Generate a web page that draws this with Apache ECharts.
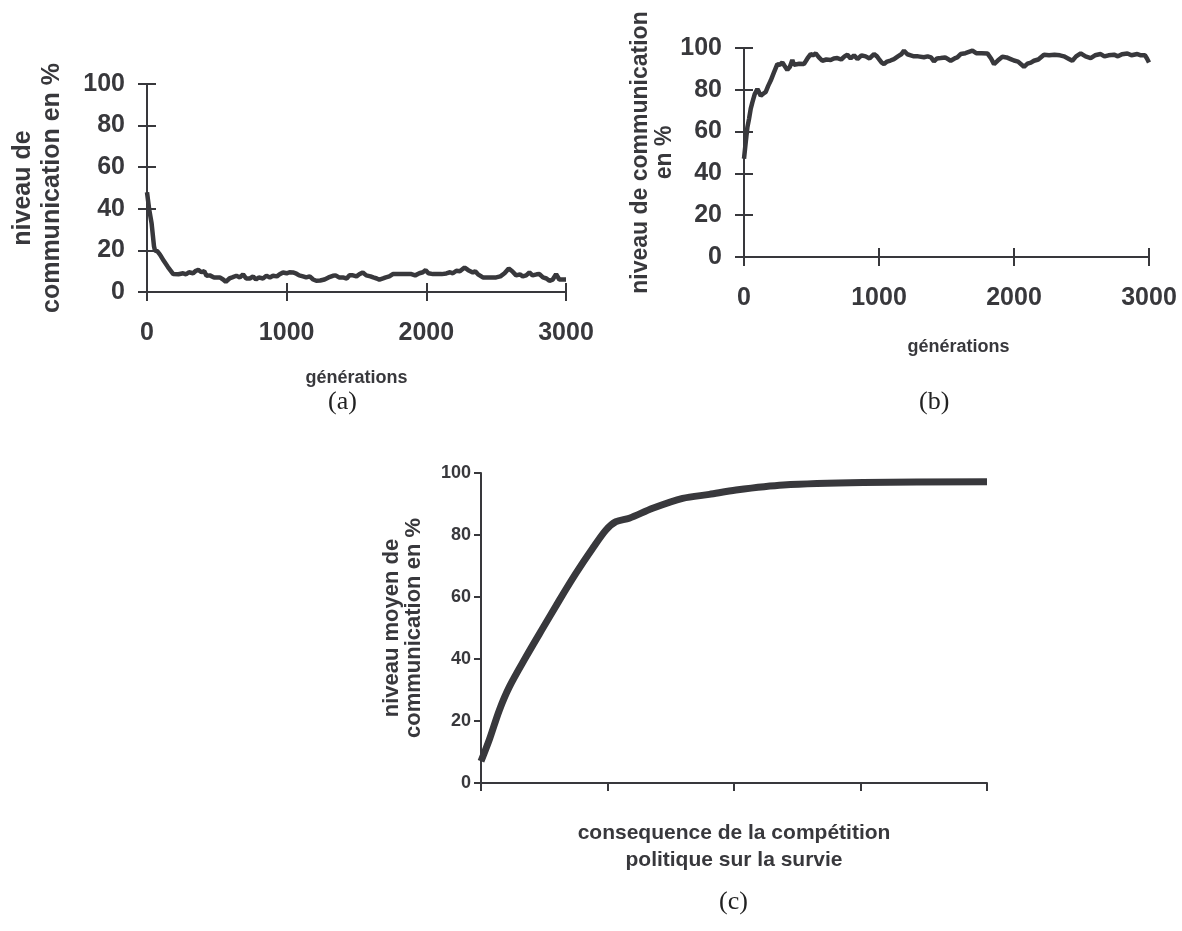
<!DOCTYPE html>
<html>
<head>
<meta charset="utf-8">
<script src="https://cdn.jsdelivr.net/npm/echarts@6/dist/echarts.min.js"></script>
<style>
html,body{margin:0;padding:0;background:#fff;}
#chart{width:1182px;height:931px;}
</style>
</head>
<body>
<div id="chart"></div>
<script>
// ---------- data ----------
// panel (a): generations / communication level
var genA = [0,15,33,50,57,75,93,120,150,188,200,225,259,280,300,330,350,367,390,410,426,450,480,521,545,564,590,610,640,665,688,710,736,760,780,800,830,855,880,902,930,950,974,1000,1020,1045,1070,1090,1117,1140,1165,1190,1212,1240,1271,1300,1331,1350,1375,1402,1430,1450,1474,1500,1520,1545,1570,1600,1620,1645,1664,1690,1710,1735,1760,1800,1840,1870,1893,1920,1950,1975,1995,2015,2048,2080,2110,2143,2170,2190,2215,2240,2274,2300,2333,2350,2370,2405,2440,2470,2500,2530,2560,2590,2615,2643,2670,2690,2715,2738,2760,2790,2810,2835,2860,2881,2905,2929,2952,2975,3000];
var valA = [48,40,33,22,20,19.5,18,15,12,8.6,9,8.5,9,8.5,9.5,9,10.2,10.6,9.5,10,7.8,8,7,7,6,4.9,6.5,7,7.8,7,8.5,6.5,6.5,7.5,6,7,6.5,7.8,7,7.8,7.5,8.5,9.4,9,9.5,9.4,8.8,8,7.5,7,7.5,6,5.4,5.5,6,7,7.8,8,7,7,6.5,8,8,7.5,8.5,9.4,8,7.5,7,6.5,5.9,6.5,7,7.5,8.6,8.6,8.6,8.6,8.6,8,9,9.5,10.5,9,8.6,8.6,8.6,8.9,9.5,9,10.2,10,11.8,10.5,9.4,10,8.5,7,7,7,7,7.5,9,11.3,10,8,8.5,7.5,8,9.4,8,8.5,8.6,7,6.5,5.4,6,8.6,6,6,6];

// panel (b)
var genB = [0,13,25,37,50,62,80,99,110,124,140,161,180,198,222,247,265,284,300,321,340,358,370,383,410,444,470,494,510,531,555,580,610,642,665,691,720,745,766,790,815,840,870,901,930,963,985,1000,1020,1037,1060,1085,1111,1140,1165,1185,1210,1235,1259,1290,1333,1360,1385,1407,1430,1457,1490,1531,1560,1580,1605,1640,1692,1720,1760,1803,1830,1852,1880,1914,1945,1975,2000,2030,2074,2100,2125,2148,2180,2222,2260,2300,2340,2370,2400,2432,2460,2494,2530,2568,2600,2642,2670,2700,2741,2770,2800,2840,2870,2914,2940,2970,2985,3000];
var valB = [47,55,62,66,71,74,78,80.4,79,77.2,78,79,82,84.4,88.3,92.3,92,93.1,91.5,89.5,91,94.3,92,91.5,92.5,92.3,95,97.1,96.5,97.4,95.5,93.9,94.5,94.3,95,95.2,94.5,96,96.8,95,96.5,94.7,96.5,96,95,97.1,96,94.7,93,92.3,93.5,94,94.7,96,97,98.7,97,96.5,96,96,95.6,96,95.5,93.6,95,95.2,95.5,93.9,95,95.5,97.1,97.5,98.7,97.5,97.5,97.4,95,92.3,94,95.8,95.5,94.7,94,93.5,91,92.5,93,93.9,94.5,96.8,96.5,96.8,96.5,96,95,93.9,96,97.4,96,95.2,96.5,97.1,96,96.5,96.8,96,97,97.4,96.5,97.1,96.5,96.5,95,93.1];

// panel (c): consequence of political competition on survival
var xC = [0,0.066,0.145,0.224,0.356,0.488,0.62,0.75,0.883,0.988,1.067,1.172,1.357,1.594,1.805,2.016,2.39,3.02,4];
var valC = [7,14,23.5,31,40.7,49.9,59,67.6,75.7,81.6,84.3,85.4,88.6,91.8,93.1,94.5,96.1,96.9,97.2];

function pairs(xs, ys){ var o=[]; for(var i=0;i<xs.length;i++){o.push([xs[i],ys[i]]);} return o; }

// ---------- styles ----------
var INK = '#38383c';
var FONT = '"Liberation Sans", Arial, sans-serif';
var SERIF = '26px "Liberation Serif", "Times New Roman", serif';

function plain(v){ return String(v); }

function xAxisGen(gridIndex, inside, nameGap, namePad){
  return {
    type:'value', gridIndex:gridIndex, position:'bottom', offset:0, min:0, max:3000, interval:1000,
    axisLine:{show:true, lineStyle:{color:INK, width:inside?0:2, opacity:inside?0:1}},
    axisTick:{show:true, inside:inside, length:9, lineStyle:{color:INK, width:2}},
    axisLabel:{show:!inside, formatter:plain, color:INK, fontFamily:FONT, fontWeight:'bold', fontSize:25, margin:29},
    splitLine:{show:false},
    name: inside ? '' : 'générations',
    nameLocation:'middle', nameGap:nameGap,
    nameTextStyle:{color:INK, fontFamily:FONT, fontWeight:'bold', fontSize:18, padding:namePad}
  };
}
function yAxisPct(gridIndex, inside, name, nameGap, nameSize, lh){
  return {
    type:'value', gridIndex:gridIndex, position:'left', offset:0, min:0, max:100, interval:20,
    axisLine:{show:true, lineStyle:{color:INK, width:inside?0:2, opacity:inside?0:1}},
    axisTick:{show:true, inside:inside, length:9, lineStyle:{color:INK, width:2}},
    axisLabel:{show:!inside, formatter:plain, color:INK, fontFamily:FONT, fontWeight:'bold', fontSize:25, margin:22},
    splitLine:{show:false},
    name: inside ? '' : name,
    nameLocation:'middle', nameGap:nameGap, nameRotate:90,
    nameTextStyle:{color:INK, fontFamily:FONT, fontWeight:'bold', fontSize:nameSize, lineHeight:lh}
  };
}

var chart = echarts.init(document.getElementById('chart'), null, {renderer:'canvas'});
chart.setOption({
  backgroundColor:'#ffffff',
  animation:false,
  grid:[
    {left:147, top:84, width:419, height:208},
    {left:744, top:48, width:405, height:209},
    {left:481, top:473, width:506, height:310}
  ],
  xAxis:[
    xAxisGen(0,false,77,[0,0,0,0]), xAxisGen(0,true,0,[0,0,0,0]),
    xAxisGen(1,false,81,[0,0,0,24]), xAxisGen(1,true,0,[0,0,0,0]),
    {
      type:'value', gridIndex:2, min:0, max:4, interval:1,
      axisLine:{lineStyle:{color:INK, width:2}},
      axisTick:{show:true, length:8, lineStyle:{color:INK, width:2}},
      axisLabel:{show:false},
      splitLine:{show:false},
      name:'consequence de la compétition\npolitique sur la survie',
      nameLocation:'middle', nameGap:37,
      nameTextStyle:{color:INK, fontFamily:FONT, fontWeight:'bold', fontSize:21, lineHeight:27}
    }
  ],
  yAxis:[
    yAxisPct(0,false,'niveau de\ncommunication en %',80,25,29), yAxisPct(0,true,'',0,25,29),
    yAxisPct(1,false,'niveau de communication\nen %',59,23,24), yAxisPct(1,true,'',0,23,24),
    {
      type:'value', gridIndex:2, min:0, max:100, interval:20,
      axisLine:{lineStyle:{color:INK, width:2}},
      axisTick:{show:true, length:7, lineStyle:{color:INK, width:2}},
      axisLabel:{formatter:plain, color:INK, fontFamily:FONT, fontWeight:'bold', fontSize:18, margin:10},
      splitLine:{show:false},
      name:'niveau moyen de\ncommunication en %',
      nameLocation:'middle', nameGap:56, nameRotate:90,
      nameTextStyle:{color:INK, fontFamily:FONT, fontWeight:'bold', fontSize:22, lineHeight:22}
    }
  ],
  series:[
    {type:'line', xAxisIndex:0, yAxisIndex:0, data:pairs(genA,valA), showSymbol:false, lineStyle:{color:INK, width:4.5}, z:5},
    {type:'line', xAxisIndex:2, yAxisIndex:2, data:pairs(genB,valB), showSymbol:false, lineStyle:{color:INK, width:4.5}, z:5},
    {type:'line', xAxisIndex:4, yAxisIndex:4, data:pairs(xC,valC), showSymbol:false, smooth:0.3, lineStyle:{color:INK, width:7}, z:5}
  ],
  graphic:[
    {type:'text', left:344-16, top:389, style:{text:'(a)', font:SERIF, fill:'#222'}},
    {type:'text', left:935-16, top:389, style:{text:'(b)', font:SERIF, fill:'#222'}},
    {type:'text', left:735-16, top:889, style:{text:'(c)', font:SERIF, fill:'#222'}}
  ]
});
</script>
</body>
</html>
